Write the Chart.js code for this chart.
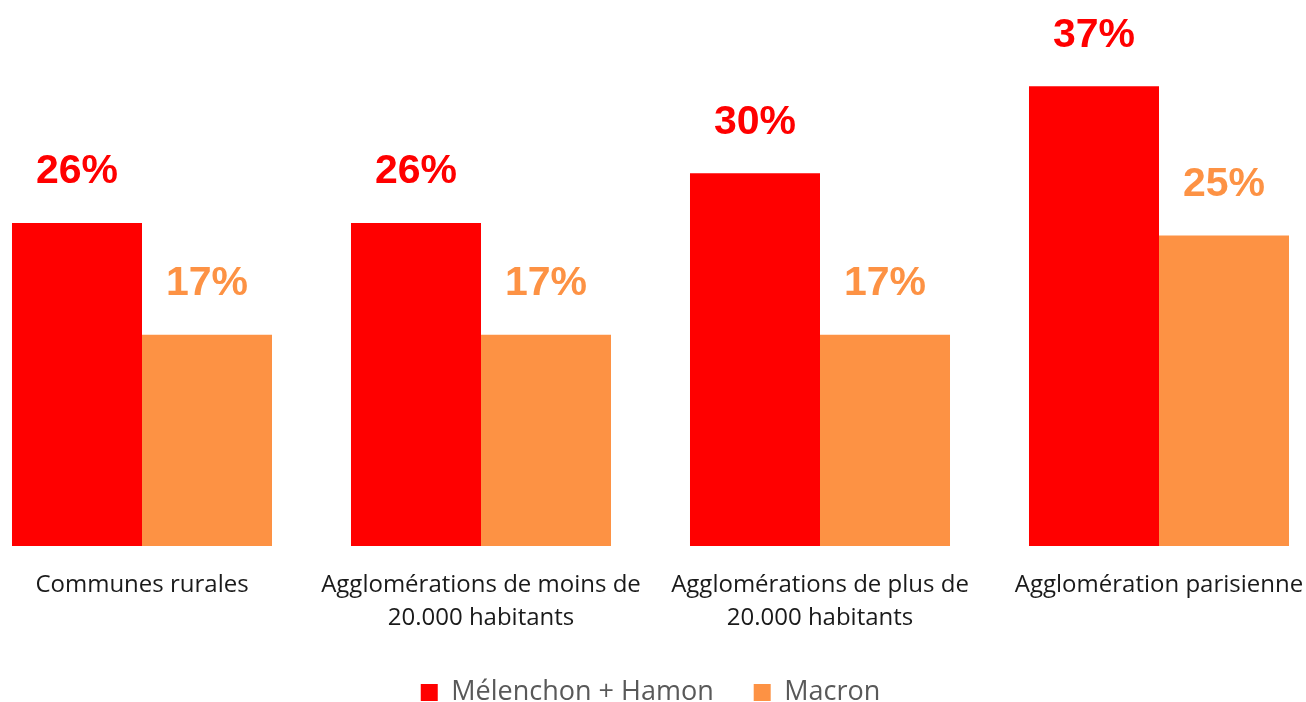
<!DOCTYPE html>
<html>
<head>
<meta charset="utf-8">
<script src="https://cdn.jsdelivr.net/npm/chart.js@4"></script>
<style>
  html, body { margin: 0; padding: 0; background: #fff; }
  #wrap { width: 1306px; height: 702px; }
</style>
</head>
<body>
<div id="wrap"><canvas id="chart"></canvas></div>
<script>
// Chart data
const categories = [
  'Communes rurales',
  ['Agglomérations de moins de', '20.000 habitants'],
  ['Agglomérations de plus de', '20.000 habitants'],
  'Agglomération parisienne'
];
const seriesNames = ['Mélenchon + Hamon', 'Macron'];
const melenchonHamon = [26, 26, 30, 37];
const macron = [17, 17, 17, 25];

const redColor = '#ff0000';
const orangeColor = '#fd9244';

// Value labels above each bar
const valueLabels = {
  id: 'valueLabels',
  afterDatasetsDraw(chart) {
    const ctx = chart.ctx;
    ctx.save();
    ctx.font = 'bold 41px "Liberation Sans", Arial, sans-serif';
    ctx.textAlign = 'center';
    ctx.textBaseline = 'middle';
    chart.data.datasets.forEach((ds, i) => {
      const meta = chart.getDatasetMeta(i);
      ctx.fillStyle = ds.labelColor;
      meta.data.forEach((bar, j) => {
        ctx.fillText(ds.data[j] + '%', bar.x, bar.y - 51);
      });
    });
    ctx.restore();
  }
};

const ctx = document.getElementById('chart').getContext('2d');
const chart = new Chart(ctx, {
  type: 'bar',
  data: {
    labels: categories,
    datasets: [
      {
        label: seriesNames[0],
        data: melenchonHamon,
        backgroundColor: redColor,
        labelColor: redColor,
        clip: false
      },
      {
        label: seriesNames[1],
        data: macron,
        backgroundColor: orangeColor,
        labelColor: orangeColor,
        clip: false
      }
    ]
  },
  options: {
    responsive: true,
    maintainAspectRatio: false,
    animation: false,
    categoryPercentage: 0.767,
    barPercentage: 1,
    layout: { padding: { top: 49, left: 142, right: 147, bottom: -14 } },
    scales: {
      x: {
        offset: false,
        grid: { display: false },
        border: { display: false },
        afterFit(scale) {
          // fixed axis band, and no extra room for label overhang
          scale.height = 93;
          scale.paddingLeft = 0;
          scale.paddingRight = 0;
        },
        ticks: {
          autoSkip: false,
          maxRotation: 0,
          padding: 15,
          color: '#1a1a1a',
          font: { family: '"Open Sans", sans-serif', size: 24, lineHeight: 1.375 }
        }
      },
      y: {
        display: false,
        min: 0,
        max: 40
      }
    },
    plugins: {
      legend: {
        position: 'bottom',
        labels: {
          boxWidth: 17,
          boxHeight: 17,
          padding: 40,
          color: '#595959',
          font: { family: '"Open Sans", sans-serif', size: 27 }
        }
      },
      tooltip: { enabled: false }
    }
  },
  plugins: [valueLabels]
});
</script>
</body>
</html>
